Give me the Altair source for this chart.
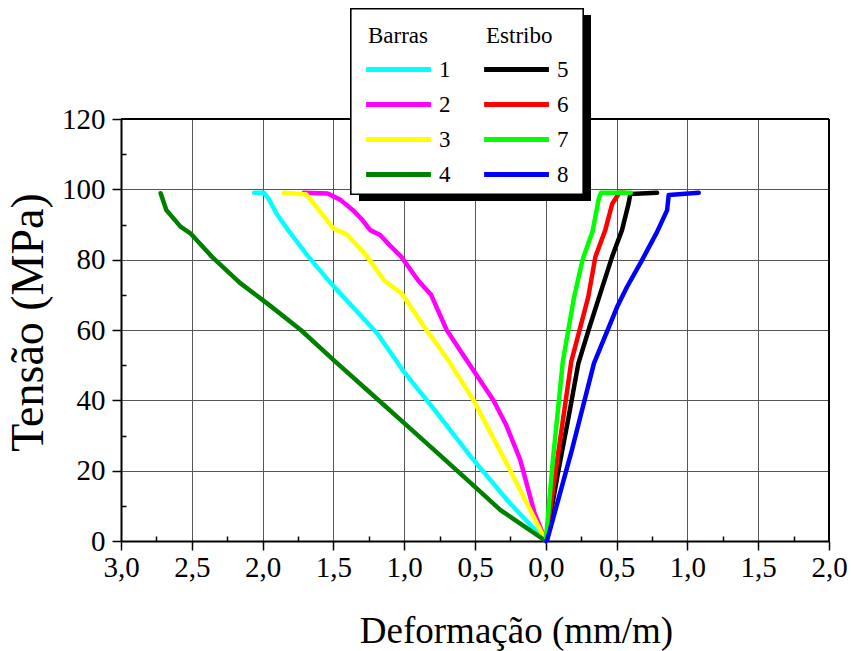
import altair as alt
import pandas as pd

# Strain (mm/m, negative = shortening) and stress (MPa) for each gauge
# Barras (longitudinal bars)
b1_def = [0, -0.12, -0.27, -0.53, -0.78, -1.00, -1.19, -1.35, -1.52, -1.68, -1.82, -1.90, -1.96, -1.99, -2.06]
b1_ten = [0, 5.0, 11.5, 24.0, 37.0, 48.0, 59.0, 66.0, 73.4, 81.0, 88.4, 93.0, 97.5, 99.0, 99.0]

b2_def = [0, -0.08, -0.18, -0.28, -0.37, -0.56, -0.70, -0.81, -0.90, -1.02, -1.10, -1.17, -1.24, -1.30, -1.36, -1.45, -1.54, -1.71]
b2_ten = [0, 8.0, 23.0, 33.0, 40.0, 51.5, 60.0, 70.0, 74.0, 80.8, 84.0, 87.0, 88.4, 91.5, 94.0, 97.0, 98.8, 99.0]

b3_def = [0, -0.25, -0.51, -0.69, -0.86, -1.02, -1.14, -1.26, -1.40, -1.50, -1.62, -1.69, -1.85]
b3_ten = [0, 20.0, 40.0, 51.5, 61.0, 70.5, 74.0, 80.8, 87.0, 88.9, 95.0, 98.5, 99.0]

b4_def = [0, -0.32, -0.50, -0.75, -1.00, -1.25, -1.50, -1.73, -1.95, -2.16, -2.35, -2.51, -2.58, -2.68, -2.72]
b4_ten = [0, 8.8, 15.4, 24.5, 33.5, 42.5, 51.5, 60.0, 67.0, 73.4, 80.5, 87.5, 89.4, 94.1, 98.9]

# Estribo (stirrups)
e5_def = [0, 0.09, 0.16, 0.23, 0.31, 0.385, 0.468, 0.538, 0.585, 0.597, 0.786]
e5_ten = [0, 20.2, 35.0, 50.5, 61.0, 70.4, 80.8, 88.4, 96.0, 98.7, 99.0]

e6_def = [0, 0.07, 0.18, 0.30, 0.35, 0.42, 0.47, 0.52, 0.56]
e6_ten = [0, 20.0, 51.0, 69.4, 80.8, 88.4, 96.0, 99.0, 99.0]

e7_def = [0, 0.05, 0.12, 0.20, 0.26, 0.33, 0.375, 0.39, 0.60]
e7_ten = [0, 23.0, 51.0, 69.4, 80.0, 88.0, 97.5, 99.0, 99.0]

e8_def = [0, 0.01, 0.185, 0.34, 0.504, 0.574, 0.668, 0.786, 0.857, 0.868, 1.08]
e8_ten = [0, 0.3, 26.0, 50.5, 66.6, 72.3, 79.0, 87.9, 94.1, 98.4, 99.0]

barras_nomes = ["1", "2", "3", "4"]
barras_cores = ["#00FFFF", "#FF00FF", "#FFFF00", "#008000"]
estribo_nomes = ["5", "6", "7", "8"]
estribo_cores = ["#000000", "#FF0000", "#00FF00", "#0000FF"]

x_major = [-3.0, -2.5, -2.0, -1.5, -1.0, -0.5, 0.0, 0.5, 1.0, 1.5, 2.0]
x_minor = [-2.75, -2.25, -1.75, -1.25, -0.75, -0.25, 0.25, 0.75, 1.25, 1.75]
y_major = [0, 20, 40, 60, 80, 100, 120]
y_minor = [10, 30, 50, 70, 90, 110]


def tabela(nomes, pares):
    linhas = []
    for nome, (xs, ys) in zip(nomes, pares):
        for i, (x, y) in enumerate(zip(xs, ys)):
            linhas.append({"serie": nome, "ordem": i, "def": x, "tensao": y})
    return pd.DataFrame(linhas)


df_b = tabela(barras_nomes, [(b1_def, b1_ten), (b2_def, b2_ten), (b3_def, b3_ten), (b4_def, b4_ten)])
df_e = tabela(estribo_nomes, [(e5_def, e5_ten), (e6_def, e6_ten), (e7_def, e7_ten), (e8_def, e8_ten)])

W, H = 708, 422
FONT = "Liberation Serif"

xs = alt.Scale(domain=[-3, 2], nice=False, zero=False)
ys = alt.Scale(domain=[0, 120], nice=False, zero=False)

x_axis = alt.Axis(
    values=x_major,
    labelExpr="replace(format(abs(datum.value), '.1f'), '.', ',')",
    title="Deformação (mm/m)",
    titleFont=FONT, titleFontSize=37, titleFontWeight="normal", titleColor="black",
    titleX=395, titleY=101, titleBaseline="alphabetic", titleAlign="center", titleAnchor="start",
    labelFont=FONT, labelFontSize=29, labelColor="black", labelPadding=3, labelFlush=False,
    tickSize=9, tickWidth=1.5, tickColor="black",
    domainColor="black", domainWidth=2,
    grid=True, gridColor="#555555", gridWidth=1,
)
y_axis = alt.Axis(
    values=y_major,
    title="Tensão (MPa)",
    titleFont=FONT, titleFontSize=46, titleFontWeight="normal", titleColor="black",
    titleAngle=270, titleX=-93, titleY=203, titleBaseline="middle", titleAlign="center", titleAnchor="start",
    labelFont=FONT, labelFontSize=29, labelColor="black", labelPadding=7, labelFlush=False,
    tickSize=9, tickWidth=1.5, tickColor="black",
    domainColor="black", domainWidth=2,
    grid=True, gridColor="#555555", gridWidth=1,
)

# short nominal symbol, drawn as a long horizontal stroke
SYM = 40
leg_common = dict(
    orient="none", direction="vertical",
    symbolType="M-1.62,0H1.62", symbolSize=SYM * SYM, symbolStrokeWidth=5, symbolOffset=8,
    labelFont=FONT, labelFontSize=23, labelColor="black", labelOffset=18,
    titleFont=FONT, titleFontSize=23, titleFontWeight="normal", titleColor="black",
    titlePadding=-1, rowPadding=0, padding=0,
)

linhas_b = alt.Chart(df_b).mark_line(strokeWidth=4.5, strokeCap="round", strokeJoin="round").encode(
    x=alt.X("def:Q", scale=xs, axis=x_axis),
    y=alt.Y("tensao:Q", scale=ys, axis=y_axis),
    order="ordem:Q",
    color=alt.Color("serie:N", scale=alt.Scale(domain=barras_nomes, range=barras_cores),
                    legend=alt.Legend(title="Barras", legendX=247, legendY=-94, **leg_common)),
)

linhas_e = alt.Chart(df_e).mark_line(strokeWidth=4.5, strokeCap="round", strokeJoin="round").encode(
    x=alt.X("def:Q", scale=xs, axis=None),
    y=alt.Y("tensao:Q", scale=ys, axis=None),
    order="ordem:Q",
    color=alt.Color("serie:N", scale=alt.Scale(domain=estribo_nomes, range=estribo_cores),
                    legend=alt.Legend(title="Estribo", legendX=365, legendY=-94, **leg_common)),
)

# inward minor ticks on the bottom and left edges
menores = alt.Chart(df_b).mark_point(opacity=0).encode(
    x=alt.X("def:Q", scale=xs, axis=alt.Axis(
        orient="top", offset=-H, values=x_minor, labels=False, domain=False, grid=False,
        tickSize=5, tickWidth=1.5, tickColor="black", title=None)),
    y=alt.Y("tensao:Q", scale=ys, axis=alt.Axis(
        orient="right", offset=-W, values=y_minor, labels=False, domain=False, grid=False,
        tickSize=5, tickWidth=1.5, tickColor="black", title=None)),
)

# top and right borders of the frame
borda_topo = alt.Chart(df_b).mark_rule(color="black", strokeWidth=1.5).encode(
    y=alt.YDatum(120, scale=ys, axis=None)
)
borda_dir = alt.Chart(df_b).mark_rule(color="black", strokeWidth=2).encode(
    x=alt.XDatum(2, scale=xs, axis=None)
)

# legend panel with drop shadow
sombra = alt.Chart(df_b).mark_rect(fill="black").encode(
    x=alt.value(238), x2=alt.value(470), y=alt.value(-104), y2=alt.value(82)
)
painel = alt.Chart(df_b).mark_rect(fill="white", stroke="black", strokeWidth=1.2).encode(
    x=alt.value(230), x2=alt.value(462), y=alt.value(-110), y2=alt.value(75)
)

chart = alt.layer(
    borda_topo, borda_dir, menores, linhas_b, linhas_e, sombra, painel
).resolve_scale(
    color="independent"
).resolve_axis(
    x="independent", y="independent"
).properties(
    width=W, height=H,
    padding={"left": 121, "top": 119, "right": 22, "bottom": 110},
    autosize=alt.AutoSizeParams(type="none"),
    background="white",
).configure_view(stroke=None)

chart.save("out.html", embed_options={"renderer": "svg", "actions": False})
